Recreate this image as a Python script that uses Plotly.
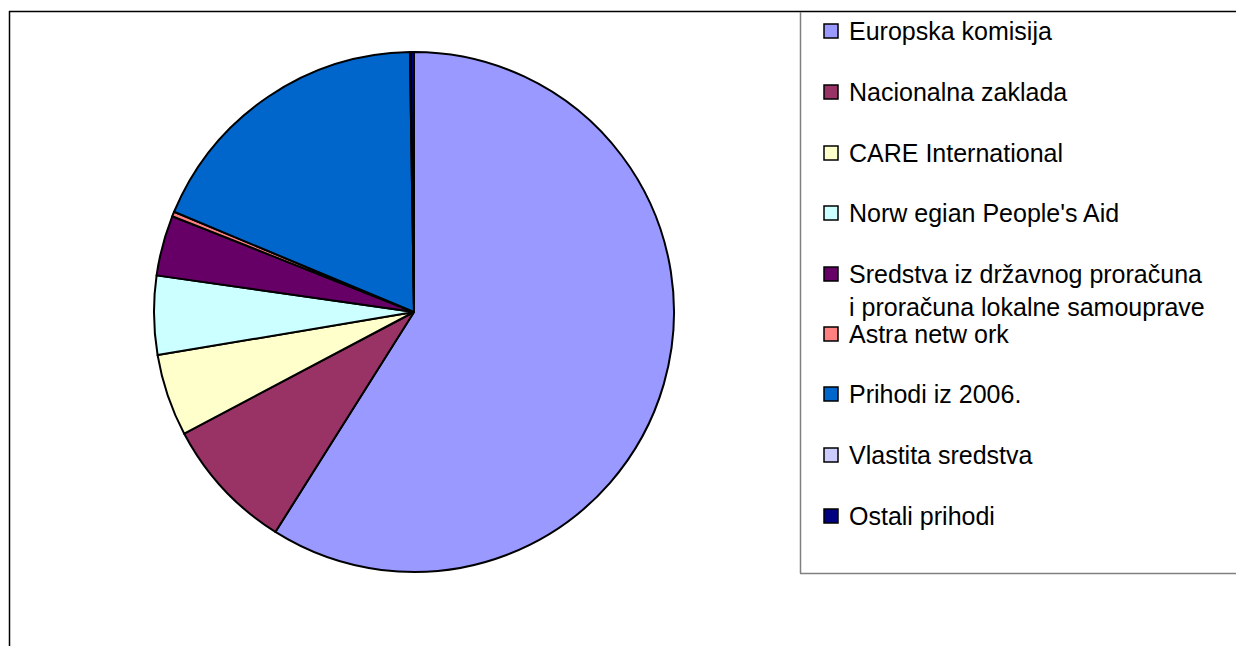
import plotly.graph_objects as go

labels = ["Europska komisija", "Nacionalna zaklada", "CARE International",
          "Norw egian People's Aid",
          "Sredstva iz državnog proračuna<br>i proračuna lokalne samouprave",
          "Astra netw ork", "Prihodi iz 2006.", "Vlastita sredstva", "Ostali prihodi"]
values = [58.95, 8.3, 5.1, 4.9, 3.75, 0.3, 18.45, 0.05, 0.2]
colors = ["#9999FF", "#993366", "#FFFFCC", "#CCFFFF", "#660066",
          "#FF8080", "#0066CC", "#CCCCFF", "#000080"]

W, H = 1244, 646
OFF = 8  # page body margin
cx, cy, r = 414 - OFF, 312 - OFF, 260


def px(x):
    return (x - OFF) / W


def py(y):
    return 1 - (y - OFF) / H


fig = go.Figure()
fig.add_trace(go.Pie(
    labels=labels, values=values, sort=False, direction="clockwise", rotation=0,
    marker=dict(colors=colors, line=dict(color="black", width=2)),
    textinfo="none", hoverinfo="label+percent", showlegend=False,
    domain=dict(x=[(cx - r) / W, (cx + r) / W], y=[1 - (cy + r) / H, 1 - (cy - r) / H]),
))

shapes = [
    # outer frame
    dict(type="line", xref="paper", yref="paper", x0=px(9), x1=1, y0=py(11.5), y1=py(11.5),
         line=dict(color="black", width=1.5)),
    dict(type="line", xref="paper", yref="paper", x0=px(9.5), x1=px(9.5), y0=0, y1=py(11),
         line=dict(color="black", width=1.5)),
    # legend box
    dict(type="line", xref="paper", yref="paper", x0=px(800.5), x1=px(800.5), y0=py(573.5), y1=py(12),
         line=dict(color="#808080", width=1.5)),
    dict(type="line", xref="paper", yref="paper", x0=px(800), x1=1, y0=py(573.5), y1=py(573.5),
         line=dict(color="#808080", width=1.5)),
]
annotations = []
centers = [31, 92, 153, 213, 274, 334, 394, 455, 516]
for lab, col, yc in zip(labels, colors, centers):
    shapes.append(dict(type="rect", xref="paper", yref="paper",
                       x0=px(824), x1=px(838), y0=py(yc + 7), y1=py(yc - 7),
                       fillcolor=col, line=dict(color="black", width=1.5)))
    multi = "<br>" in lab
    annotations.append(dict(
        xref="paper", yref="paper", x=px(847), y=py(yc + 16.5) if multi else py(yc),
        xanchor="left", yanchor="middle", align="left",
        text=lab, showarrow=False,
        font=dict(family="Liberation Sans, Arial, sans-serif", size=25, color="black"),
    ))

fig.update_layout(
    width=W, height=H, margin=dict(l=0, r=0, t=0, b=0),
    paper_bgcolor="white", plot_bgcolor="white",
    shapes=shapes, annotations=annotations,
)
fig.write_html("out.html")
